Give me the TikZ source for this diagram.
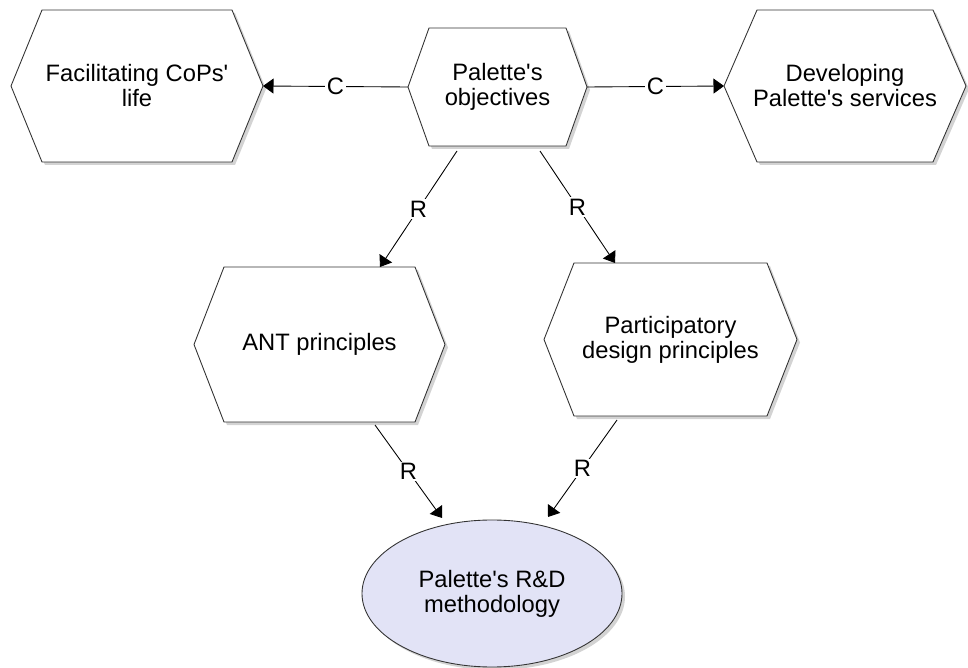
\documentclass[tikz,border=0pt]{standalone}
\usepackage{fontspec}
\setmainfont{Liberation Sans}
\usetikzlibrary{arrows.meta, calc, shapes.geometric, shadows, backgrounds}
\definecolor{methfill}{RGB}{226,227,246}
\newcommand{\ap}{\textquotesingle}

\tikzset{
	hexbox/.style={rectangle, outer sep=0pt, inner sep=2pt, align=center},
	hexline/.style={draw=black!80, fill=white, line width=0.5pt,
		drop shadow={shadow xshift=0.6mm, shadow yshift=-0.6mm, opacity=0.35}},
	link/.style={draw=black, line width=0.5pt, -{Triangle[length=2.1mm, width=3mm]}},
	tag/.style={fill=white, inner sep=1pt},
}

% hexagon round a named node: node name, inset of the slanted sides
\newcommand{\hexpath}[2]{%
	\path[hexline] (#1.west) -- ($(#1.north west)+(#2,0)$) -- ($(#1.north east)+(-#2,0)$)
		-- (#1.east) -- ($(#1.south east)+(-#2,0)$) -- ($(#1.south west)+(#2,0)$) -- cycle;
}

\begin{document}
\begin{tikzpicture}[x=0.2mm, y=-0.2mm, font=\fontsize{13.5}{14.2}\selectfont]
	\useasboundingbox (0,0) rectangle (968,668);

	\node [hexbox, minimum width=50.4mm, minimum height=30.4mm] (cops) at (137,86) {Facilitating CoPs\ap\\life};
	\node [hexbox, minimum width=35.8mm, minimum height=23.6mm] (obj) at (497.5,87) {Palette\ap s\\objectives};
	\node [hexbox, minimum width=48.4mm, minimum height=30.4mm] (serv) at (845,86) {Developing\\Palette\ap s services};
	\node [hexbox, minimum width=50.2mm, minimum height=31mm] (ant) at (319.5,344.5) {ANT principles};
	\node [hexbox, minimum width=50.6mm, minimum height=30.6mm] (part) at (670.5,339.5) {Participatory\\design principles};
	\node [ellipse, draw=black!80, fill=methfill, line width=0.5pt, outer sep=0pt,
		minimum width=52mm, minimum height=29.4mm, align=center,
		drop shadow={shadow xshift=0.6mm, shadow yshift=-0.6mm, opacity=0.35}] (meth) at (492,593.5) {Palette\ap s R\&D\\methodology};

	\begin{scope}[on background layer]
		\hexpath{cops}{31}
		\hexpath{obj}{21}
		\hexpath{serv}{33}
		\hexpath{ant}{30}
		\hexpath{part}{30}
	\end{scope}

	\draw [link] (obj.west) -- (cops.east) node [midway, tag] {C};
	\draw [link] (obj.east) -- (serv.west) node [midway, tag] {C};
	\draw [link] ($(obj.south)+(-40.5,5)$) -- ($(ant.north)+(60.5,0)$) node [midway, tag] {R};
	\draw [link] ($(obj.south)+(42.5,5)$) -- ($(part.north)+(-55.5,0)$) node [midway, tag] {R};
	\draw [link] ($(ant.south)+(55.5,3)$) -- ($(meth.north)+(-50,-2)$) node [midway, tag] {R};
	\draw [link] ($(part.south)+(-53.5,4)$) -- ($(meth.north)+(56,-3)$) node [midway, tag] {R};
\end{tikzpicture}
\end{document}
